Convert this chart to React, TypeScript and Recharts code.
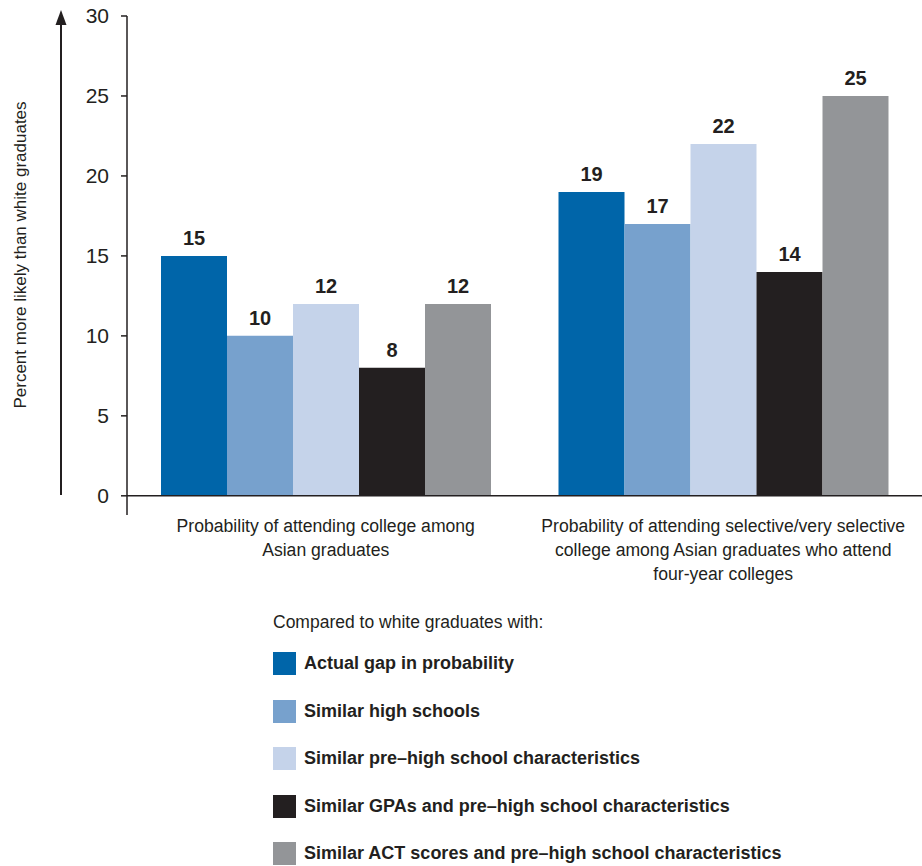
import React from 'react';
import { BarChart, Bar, XAxis, YAxis, ReferenceLine, LabelList } from 'recharts';

const FONT = "'Liberation Sans Narrow', 'Liberation Sans', Arial, sans-serif";
const INK = '#231f20';

// categories, one entry per line of the axis label
const categoryLines = [
  ['Probability of attending college among', 'Asian graduates'],
  [
    'Probability of attending selective/very selective',
    'college among Asian graduates who attend',
    'four-year colleges',
  ],
];

// percent more likely than white graduates
const actualGap = [15, 19];
const similarHighSchools = [10, 17];
const similarPreHigh = [12, 22];
const similarGpa = [8, 14];
const similarAct = [12, 25];

const yTicks = [0, 5, 10, 15, 20, 25, 30];

const series = [
  { key: 'actual', name: 'Actual gap in probability', values: actualGap, color: '#0065a9' },
  { key: 'highSchools', name: 'Similar high schools', values: similarHighSchools, color: '#77a1cd' },
  { key: 'preHigh', name: 'Similar pre\u2013high school characteristics', values: similarPreHigh, color: '#c5d3ea' },
  { key: 'gpa', name: 'Similar GPAs and pre\u2013high school characteristics', values: similarGpa, color: '#231f20' },
  { key: 'act', name: 'Similar ACT scores and pre\u2013high school characteristics', values: similarAct, color: '#939598' },
];

const data = categoryLines.map((lines, i) => {
  const row: Record<string, any> = { category: lines.join(' ') };
  series.forEach(s => { row[s.key] = s.values[i]; });
  return row;
});

const CategoryTick = ({ x, y, payload }: any) => {
  const lines = categoryLines[payload.index] ?? [payload.value];
  return (
    <text x={x} y={y} textAnchor="middle" fill={INK} fontSize={17.6} fontFamily={FONT}>
      {lines.map((l, i) => (
        <tspan key={i} x={x} dy={i === 0 ? 9 : 24}>{l}</tspan>
      ))}
    </text>
  );
};

export default function App() {
  return (
    <div style={{ position: 'absolute', left: 0, top: 0, width: 922, height: 866, background: '#fff', fontFamily: FONT }}>
      {/* y-axis title with arrow */}
      <svg width={80} height={520} style={{ position: 'absolute', left: 0, top: 0 }}>
        <line x1={61} y1={20} x2={61} y2={495} stroke={INK} strokeWidth={2} />
        <polygon points="55.5,25 61,10 66.5,25" fill={INK} />
        <text x={20} y={255} transform="rotate(-90 20 255)" textAnchor="middle" dominantBaseline="central"
          fontSize={17} fill={INK} fontFamily={FONT}>
          Percent more likely than white graduates
        </text>
      </svg>

      <div style={{ position: 'absolute', left: 0, top: 0 }}>
        <BarChart width={922} height={600} data={data} margin={{ top: 16, right: 0, left: 67, bottom: 0 }}
          barGap={0} barSize={66}>
          <XAxis dataKey="category" axisLine={false} tickLine={false} height={85} interval={0}
            tick={<CategoryTick />} />
          <XAxis xAxisId="div" type="number" domain={[0, 2]} hide />
          <YAxis domain={[-1.2, 30]} ticks={yTicks} allowDataOverflow width={60} tickSize={6} tickMargin={12}
            axisLine={{ stroke: INK, strokeWidth: 1.5 }} tickLine={{ stroke: INK, strokeWidth: 1.5 }}
            tick={{ fill: INK, fontSize: 21, fontFamily: FONT }} />
          {series.map(s => (
            <Bar key={s.key} dataKey={s.key} name={s.name} fill={s.color} isAnimationActive={false}>
              <LabelList dataKey={s.key} position="top" offset={11} fill={INK} fontSize={20}
                fontWeight="bold" fontFamily={FONT} />
            </Bar>
          ))}
          <ReferenceLine y={0} stroke={INK} strokeWidth={1.5} />
          <ReferenceLine xAxisId="div" segment={[{ x: 1, y: 30.1 }, { x: 1, y: -0.3 }]} stroke={INK} strokeWidth={2.5} />
        </BarChart>
      </div>

      {/* legend */}
      <div style={{ position: 'absolute', left: 273, top: 610, color: INK }}>
        <div style={{ fontSize: 17.5, height: 24, lineHeight: '24px', whiteSpace: 'nowrap' }}>Compared to white graduates with:</div>
        {series.map((s, i) => (
          <div key={s.key} style={{ display: 'flex', alignItems: 'center', position: 'absolute', top: 42 + i * 47.6, left: 0, whiteSpace: 'nowrap' }}>
            <span style={{ width: 23, height: 23, background: s.color, display: 'inline-block', marginRight: 8 }} />
            <span style={{ fontSize: 18, fontWeight: 'bold' }}>{s.name}</span>
          </div>
        ))}
      </div>
    </div>
  );
}
